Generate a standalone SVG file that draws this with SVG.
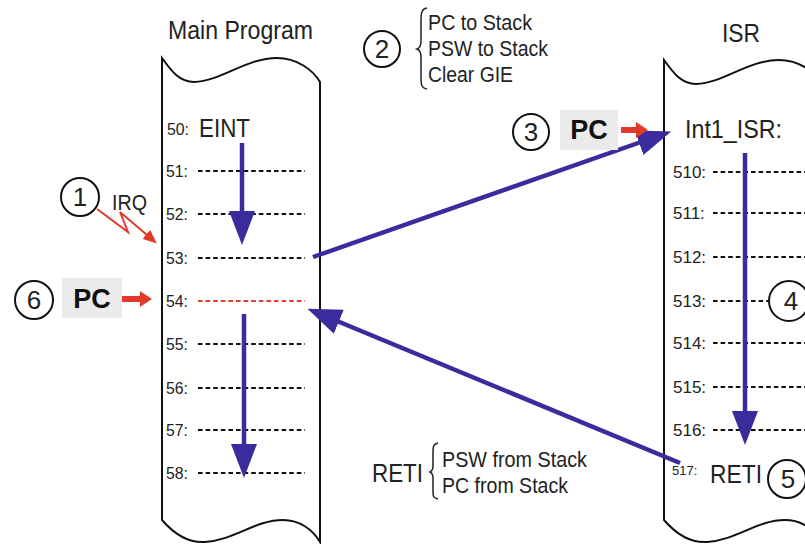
<svg xmlns="http://www.w3.org/2000/svg" width="805" height="544" viewBox="0 0 805 544">
  <style>
    text { font-family: "Liberation Sans", Arial, sans-serif; fill: #222; }
    .title { font-size: 26px; }
    .big { font-size: 26px; }
    .note { font-size: 22px; }
    .lbl { font-size: 17px; }
    .lbl2 { font-size: 17px; }
    .num { font-size: 26px; text-anchor: middle; }
    .pc { font-size: 27px; font-weight: bold; text-anchor: middle; fill: #111; }
    .page { fill: #fff; stroke: #111; stroke-width: 2; }
    .dash { stroke: #111; stroke-width: 2.2; stroke-dasharray: 4.6 3; fill: none; }
    .dash-red { stroke: #e23a2a; stroke-width: 2.2; stroke-dasharray: 4.6 3; fill: none; }
    .circ { fill: #fff; stroke: #111; stroke-width: 2; }
    .box { fill: #ebebeb; }
    .red { fill: #e23a2a; }
    .flow { stroke: #3a2c9c; stroke-width: 4.5; fill: none; marker-end: url(#head); }
    .irq { stroke: #e23a2a; stroke-width: 2; fill: none; stroke-linejoin: miter; marker-end: url(#redhead); }
    .brace { stroke: #222; stroke-width: 1.5; fill: none; }
  </style>
  <defs>
    <marker id="head" viewBox="0 0 34 26" refX="2" refY="13" markerWidth="34" markerHeight="26" markerUnits="userSpaceOnUse" orient="auto">
      <path d="M0,0 L34,13 L0,26 z" fill="#3a2c9c"/>
    </marker>
    <marker id="redhead" viewBox="0 0 14 12" refX="1" refY="6" markerWidth="14" markerHeight="12" markerUnits="userSpaceOnUse" orient="auto">
      <path d="M0,0 L14,6 L0,12 z" fill="#e23a2a"/>
    </marker>
  </defs>

  <!-- Main program listing -->
  <g id="main-program">
    <text class="title" x="168" y="39" textLength="145" lengthAdjust="spacingAndGlyphs">Main Program</text>
    <path class="page" d="M162,58 C172,72 180,82 194,82 C222,81 246,58 277,58 C297,58 313,70 320,82 L320,542 C313,530 300,520 283,520 C255,520 235,540 205,542 C190,543 175,535 162,520 Z"/>
    <text class="lbl" x="167" y="135" textLength="22" lengthAdjust="spacingAndGlyphs">50:</text>
    <text class="big" x="199" y="137" textLength="51" lengthAdjust="spacingAndGlyphs">EINT</text>
    <text class="lbl" x="166" y="177" textLength="22" lengthAdjust="spacingAndGlyphs">51:</text>
    <line class="dash" x1="198" y1="171" x2="305" y2="171"/>
    <text class="lbl" x="166" y="220" textLength="22" lengthAdjust="spacingAndGlyphs">52:</text>
    <line class="dash" x1="198" y1="214" x2="305" y2="214"/>
    <text class="lbl" x="166" y="264" textLength="22" lengthAdjust="spacingAndGlyphs">53:</text>
    <line class="dash" x1="198" y1="258" x2="305" y2="258"/>
    <text class="lbl" x="166" y="307" textLength="22" lengthAdjust="spacingAndGlyphs">54:</text>
    <line class="dash-red" x1="198" y1="301" x2="305" y2="301"/>
    <text class="lbl" x="166" y="350" textLength="22" lengthAdjust="spacingAndGlyphs">55:</text>
    <line class="dash" x1="198" y1="344" x2="305" y2="344"/>
    <text class="lbl" x="166" y="394" textLength="22" lengthAdjust="spacingAndGlyphs">56:</text>
    <line class="dash" x1="198" y1="388" x2="305" y2="388"/>
    <text class="lbl" x="166" y="436" textLength="22" lengthAdjust="spacingAndGlyphs">57:</text>
    <line class="dash" x1="198" y1="430" x2="305" y2="430"/>
    <text class="lbl" x="166" y="479" textLength="22" lengthAdjust="spacingAndGlyphs">58:</text>
    <line class="dash" x1="198" y1="473" x2="305" y2="473"/>
  </g>

  <!-- Interrupt service routine listing -->
  <g id="isr">
    <text class="title" x="722" y="42" textLength="38" lengthAdjust="spacingAndGlyphs">ISR</text>
    <path class="page" d="M664,60 C674,74 682,84 696,84 C724,83 748,60 779,60 C799,60 815,72 822,84 L822,542 C815,530 802,520 785,520 C757,520 737,540 707,542 C692,543 677,535 664,520 Z"/>
    <text class="big" x="685" y="138" textLength="97" lengthAdjust="spacingAndGlyphs">Int1_ISR:</text>
    <text class="lbl2" x="673" y="178">510:</text>
    <line class="dash" x1="713" y1="172" x2="810" y2="172"/>
    <text class="lbl2" x="673" y="219">511:</text>
    <line class="dash" x1="713" y1="213" x2="810" y2="213"/>
    <text class="lbl2" x="673" y="263">512:</text>
    <line class="dash" x1="713" y1="257" x2="810" y2="257"/>
    <text class="lbl2" x="673" y="307">513:</text>
    <line class="dash" x1="713" y1="301" x2="768" y2="301"/>
    <text class="lbl2" x="673" y="349">514:</text>
    <line class="dash" x1="713" y1="343" x2="810" y2="343"/>
    <text class="lbl2" x="673" y="393">515:</text>
    <line class="dash" x1="713" y1="387" x2="810" y2="387"/>
    <text class="lbl2" x="673" y="436">516:</text>
    <line class="dash" x1="713" y1="430" x2="810" y2="430"/>
    <text style="font-size:13px" x="672" y="475">517:</text>
    <text class="big" x="710" y="483" textLength="52" lengthAdjust="spacingAndGlyphs">RETI</text>
  </g>

  <!-- Program flow arrows -->
  <g id="connectors">
    <line class="flow" x1="242" y1="143" x2="242" y2="213"/>
    <line class="flow" x1="244" y1="314" x2="244" y2="446"/>
    <line class="flow" x1="745" y1="153" x2="745" y2="413"/>
    <line class="flow" x1="313" y1="257" x2="641" y2="142"/>
    <line class="flow" x1="680" y1="463" x2="337" y2="321"/>
    <polyline class="irq" points="97,209 128,232 120,212 147,235"/>
  </g>

  <!-- Step 1: interrupt request -->
  <g id="step1">
    <circle class="circ" cx="80" cy="197" r="19"/>
    <text class="num" x="80" y="206">1</text>
    <text class="note" x="112" y="210" textLength="35" lengthAdjust="spacingAndGlyphs">IRQ</text>
  </g>

  <!-- Step 2: context save -->
  <g id="step2">
    <circle class="circ" cx="382" cy="49" r="18"/>
    <text class="num" x="382" y="58">2</text>
    <path class="brace" d="M427,8 C421,9 421,14 421,22 L421,41 C421,46 420,48 417,49 C420,50 421,52 421,57 L421,76 C421,84 421,88 427,89"/>
    <text class="note" x="428" y="30" textLength="104" lengthAdjust="spacingAndGlyphs">PC to Stack</text>
    <text class="note" x="428" y="56" textLength="120" lengthAdjust="spacingAndGlyphs">PSW to Stack</text>
    <text class="note" x="428" y="82" textLength="85" lengthAdjust="spacingAndGlyphs">Clear GIE</text>
  </g>

  <!-- Step 3: PC loaded with ISR address -->
  <g id="step3">
    <circle class="circ" cx="531" cy="132" r="18"/>
    <text class="num" x="531" y="141">3</text>
    <rect class="box" x="560" y="110" width="58" height="40"/>
    <text class="pc" x="589" y="139">PC</text>
    <path class="red" d="M621,127 L636,127 L636,122 L648,130 L636,138 L636,133 L621,133 Z"/>
  </g>

  <!-- Step 4: ISR body -->
  <g id="step4">
    <circle class="circ" cx="789" cy="301" r="20"/>
    <text class="num" x="791" y="310">4</text>
  </g>

  <!-- Step 5: return from interrupt -->
  <g id="step5">
    <circle class="circ" cx="787" cy="479" r="19"/>
    <text class="num" x="788" y="488">5</text>
    <text class="big" x="372" y="482" textLength="51" lengthAdjust="spacingAndGlyphs">RETI</text>
    <path class="brace" d="M438,443 C433,444 433,447 433,452 L433,466 C433,469 432,471 430,472 C432,473 433,475 433,478 L433,491 C433,496 433,498 438,499"/>
    <text class="note" x="442" y="467" textLength="145" lengthAdjust="spacingAndGlyphs">PSW from Stack</text>
    <text class="note" x="442" y="493" textLength="126" lengthAdjust="spacingAndGlyphs">PC from Stack</text>
  </g>

  <!-- Step 6: PC restored -->
  <g id="step6">
    <circle class="circ" cx="34" cy="300" r="19"/>
    <text class="num" x="34" y="309">6</text>
    <rect class="box" x="62" y="278" width="60" height="40"/>
    <text class="pc" x="92" y="308">PC</text>
    <path class="red" d="M122,296 L140,296 L140,291 L152,299 L140,307 L140,302 L122,302 Z"/>
  </g>
</svg>
